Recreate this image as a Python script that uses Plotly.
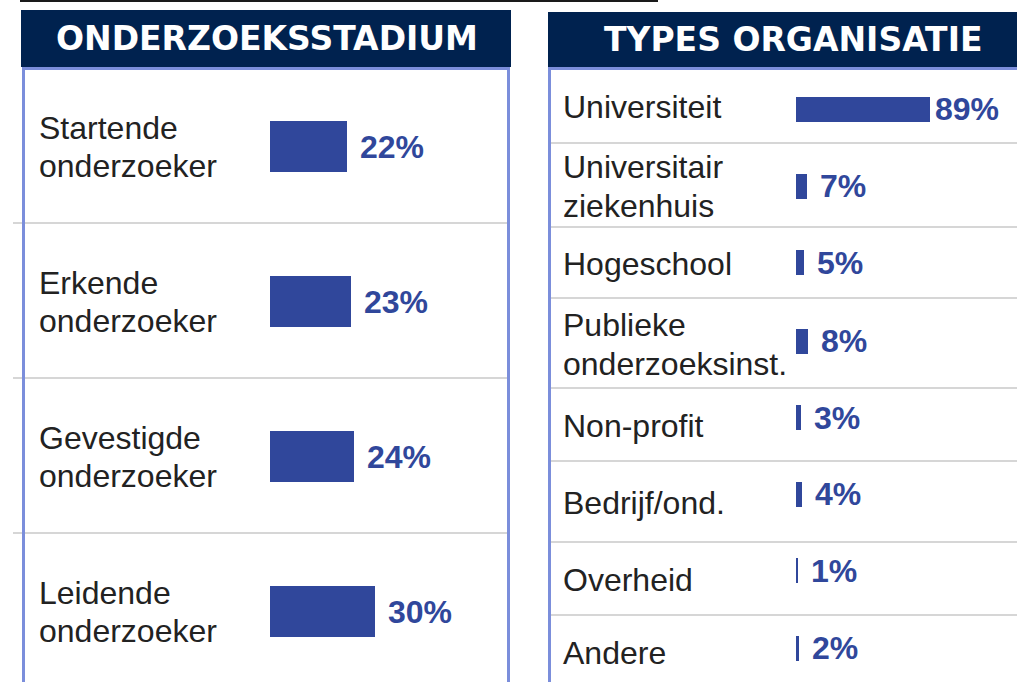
import plotly.graph_objects as go

# ---------------- data ----------------
titles = ["ONDERZOEKSSTADIUM", "TYPES ORGANISATIE"]
stage_labels = ["Startende\nonderzoeker", "Erkende\nonderzoeker",
                "Gevestigde\nonderzoeker", "Leidende\nonderzoeker"]
stage_values = [22, 23, 24, 30]
org_labels = ["Universiteit", "Universitair\nziekenhuis", "Hogeschool",
              "Publieke\nonderzoeksinst.", "Non-profit", "Bedrijf/ond.",
              "Overheid", "Andere"]
org_values = [89, 7, 5, 8, 3, 4, 1, 2]

# ---------------- layout (pixels) ----------------
W, H = 1017, 682
NAVY = "#00224F"
BORDER = "#7B8EDB"
BAR = "#30479B"
TEXT = "#222222"
SEP = "#C9C9C9"
LABEL_FONT = "Liberation Sans, Arial, Helvetica, sans-serif"
HEAD_FONT = "DejaVu Sans, Arial, sans-serif"

left_rows = [68, 223, 378, 533, 688]
right_rows = [68, 143, 227, 298, 388, 461, 542, 615, 688]
left_bar_offset = 1
right_bar_offsets = [3.5, 1, 0, -2, -7, -7.5, -8, -3.5]
LINE_PITCH = 38.5


def px(x):
    return x / W


def py(y):
    return 1 - y / H


def centers(edges):
    return [(a + b) / 2 for a, b in zip(edges[:-1], edges[1:])]


left_centers = centers(left_rows)
right_centers = centers(right_rows)
left_bar_y = [c + left_bar_offset for c in left_centers]
right_bar_y = [c + o for c, o in zip(right_centers, right_bar_offsets)]

fig = go.Figure()
fig.add_trace(go.Bar(x=stage_values, y=left_bar_y, orientation="h", width=51,
                     marker=dict(color=BAR, line=dict(width=0)),
                     xaxis="x", yaxis="y", hoverinfo="skip"))
fig.add_trace(go.Bar(x=org_values, y=right_bar_y, orientation="h", width=25,
                     marker=dict(color=BAR, line=dict(width=0)),
                     xaxis="x2", yaxis="y2", hoverinfo="skip"))

L_X0, L_X1, L_SCALE = 270, 508, 3.5
R_X0, R_SCALE = 796, 1.5

ax_common = dict(visible=False, fixedrange=True, showgrid=False, zeroline=False)
fig.update_layout(
    width=W, height=H, autosize=False,
    margin=dict(l=0, r=0, t=0, b=0),
    paper_bgcolor="white", plot_bgcolor="rgba(0,0,0,0)",
    showlegend=False, bargap=0,
    xaxis=dict(domain=[px(L_X0), px(L_X1)], range=[0, (L_X1 - L_X0) / L_SCALE],
               anchor="y", **ax_common),
    yaxis=dict(domain=[0, py(68)], range=[682, 68], anchor="x", **ax_common),
    xaxis2=dict(domain=[px(R_X0), 1], range=[0, (W - R_X0) / R_SCALE],
                anchor="y2", **ax_common),
    yaxis2=dict(domain=[0, py(68)], range=[682, 68], anchor="x2", **ax_common),
)

shapes = []
# top black rule
shapes.append(dict(type="line", xref="paper", yref="paper", x0=px(20), x1=px(658),
                   y0=py(1), y1=py(1), line=dict(color="#1a1a1a", width=2)))
# headers
shapes.append(dict(type="rect", xref="paper", yref="paper", x0=px(21), x1=px(511),
                   y0=py(67), y1=py(10), fillcolor=NAVY, line=dict(width=0)))
shapes.append(dict(type="rect", xref="paper", yref="paper", x0=px(548), x1=px(1045),
                   y0=py(67), y1=py(12), fillcolor=NAVY, line=dict(width=0)))
# separators
for e in left_rows[1:-1]:
    shapes.append(dict(type="line", xref="paper", yref="paper", x0=px(13), x1=px(508),
                       y0=py(e), y1=py(e), line=dict(color=SEP, width=1.5)))
for e in right_rows[1:-1]:
    shapes.append(dict(type="line", xref="paper", yref="paper", x0=px(550), x1=px(1020),
                       y0=py(e), y1=py(e), line=dict(color=SEP, width=1.5)))
# blue borders
for x in (23.5, 508.5, 549.5):
    shapes.append(dict(type="line", xref="paper", yref="paper", x0=px(x), x1=px(x),
                       y0=py(67), y1=py(690), line=dict(color=BORDER, width=3)))
shapes.append(dict(type="line", xref="paper", yref="paper", x0=px(22), x1=px(510),
                   y0=py(68.5), y1=py(68.5), line=dict(color=BORDER, width=3)))
shapes.append(dict(type="line", xref="paper", yref="paper", x0=px(548), x1=px(1020),
                   y0=py(68.5), y1=py(68.5), line=dict(color=BORDER, width=3)))

annotations = []
# header titles
for t, cx, cy in ((titles[0], 266.5, 39), (titles[1], 793, 40)):
    annotations.append(dict(text=t, xref="paper", yref="paper", x=px(cx), y=py(cy),
                            xanchor="center", yanchor="middle", showarrow=False,
                            font=dict(family=HEAD_FONT, size=33, color="white",
                                      weight="bold")))


def add_labels(labels, row_centers, x_anchor):
    for lab, c in zip(labels, row_centers):
        lines = lab.split("\n")
        n = len(lines)
        for i, ln in enumerate(lines):
            y = c + 1.5 + (i - (n - 1) / 2) * LINE_PITCH
            annotations.append(dict(text=ln, xref="paper", yref="paper",
                                    x=px(x_anchor), y=py(y), xanchor="left",
                                    yanchor="middle", showarrow=False,
                                    font=dict(family=LABEL_FONT, size=32, color=TEXT)))


add_labels(stage_labels, left_centers, 37)
add_labels(org_labels, right_centers, 560.5)

# value labels
for v, y in zip(stage_values, left_bar_y):
    annotations.append(dict(text=f"{v}%", xref="x", yref="y", x=v, y=y,
                            xanchor="left", yanchor="middle", xshift=11,
                            showarrow=False,
                            font=dict(family=LABEL_FONT, size=32, color=BAR,
                                      weight="bold")))
for v, y in zip(org_values, right_bar_y):
    end_px = R_X0 + v * R_SCALE
    shift = 11 if end_px + 14 + 64 <= 1004 else 3
    annotations.append(dict(text=f"{v}%", xref="x2", yref="y2", x=v, y=y,
                            xanchor="left", yanchor="middle", xshift=shift,
                            showarrow=False,
                            font=dict(family=LABEL_FONT, size=32, color=BAR,
                                      weight="bold")))

fig.update_layout(shapes=shapes, annotations=annotations)
fig.write_html(
    "out.html",
    config={"displayModeBar": False},
    post_script="document.body.style.margin='0';document.body.style.overflow='hidden';",
)
